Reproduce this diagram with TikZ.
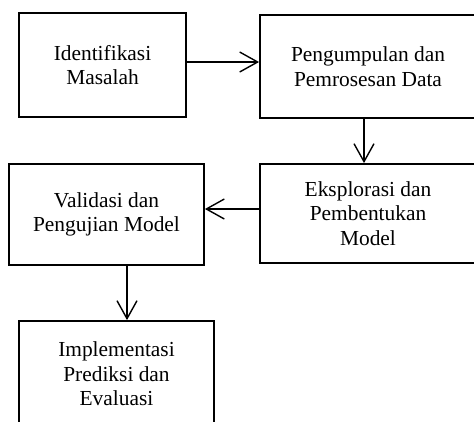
\documentclass[tikz,border=0pt]{standalone}
\usepackage{fontspec}
\setmainfont{Liberation Serif}
\usetikzlibrary{arrows.meta}
\begin{document}
\begin{tikzpicture}[x=1pt,y=-1pt,
  box/.style={draw,line width=1.8pt,rectangle,align=center,inner sep=0pt,
    font=\fontsize{21.4}{24.5}\selectfont},
  conn/.style={line width=1.4pt,-{Straight Barb[length=18pt,width=20pt,line width=1.4pt]}}]
\useasboundingbox (0,0) rectangle (474,421);
\clip (0,0) rectangle (474,421);
\node[box,minimum width=167pt,minimum height=104pt] (b1) at (102.5,65) {Identifikasi\\Masalah};
\node[box,minimum width=216pt,minimum height=103pt] (b2) at (368,66.5) {Pengumpulan dan\\Pemrosesan Data};
\node[box,minimum width=216pt,minimum height=99pt] (b3) at (368,213.5) {Eksplorasi dan\\Pembentukan\\Model};
\node[box,minimum width=195pt,minimum height=101pt] (b4) at (106.5,214.5) {Validasi dan\\Pengujian Model};
\node[box,minimum width=195pt,minimum height=106pt] (b5) at (116.5,374) {Implementasi\\Prediksi dan\\Evaluasi};
\draw[conn] (b1.east |- 0,62) -- (b2.west |- 0,62);
\draw[conn] (b2.south -| 364,0) -- (b3.north -| 364,0);
\draw[conn] (b3.west |- 0,209) -- (b4.east |- 0,209);
\draw[conn] (b4.south -| 127,0) -- (b5.north -| 127,0);
\end{tikzpicture}
\end{document}
